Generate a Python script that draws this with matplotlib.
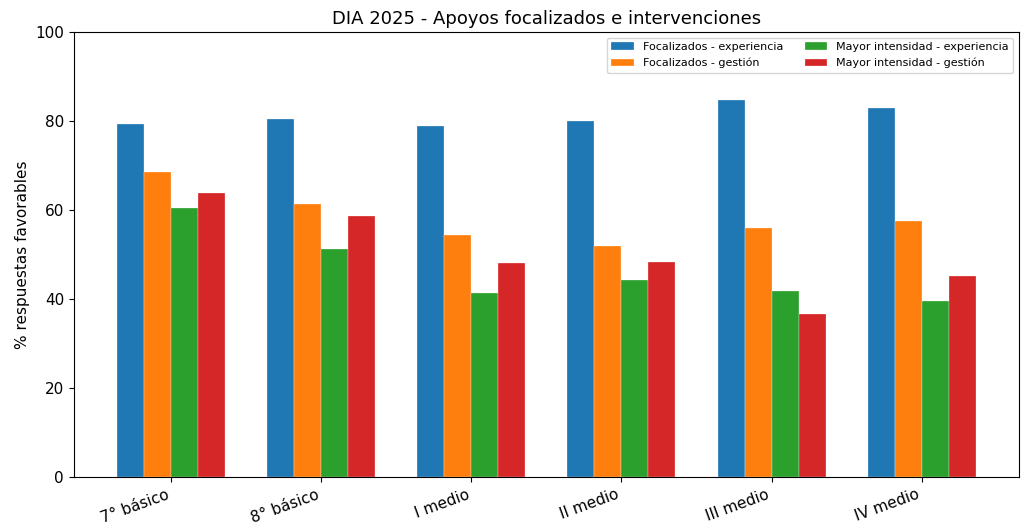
import matplotlib
matplotlib.use("Agg")
import matplotlib.pyplot as plt
import numpy as np

# Data
grades = ["7° básico", "8° básico", "I medio", "II medio", "III medio", "IV medio"]
foc_exp = [79.4, 80.5, 79.0, 80.1, 84.7, 82.9]
foc_ges = [68.6, 61.3, 54.4, 52.0, 56.0, 57.6]
may_exp = [60.4, 51.3, 41.5, 44.4, 41.9, 39.6]
may_ges = [63.8, 58.7, 48.1, 48.4, 36.7, 45.3]
series = [
    ("Focalizados - experiencia", foc_exp, "#1f77b4"),
    ("Focalizados - gestión", foc_ges, "#ff7f0e"),
    ("Mayor intensidad - experiencia", may_exp, "#2ca02c"),
    ("Mayor intensidad - gestión", may_ges, "#d62728"),
]

fig = plt.figure(figsize=(10.25, 5.29), dpi=100)
ax = fig.add_axes([0.072, 0.098, 0.922, 0.841])

x = np.arange(len(grades))
w = 0.18
for i, (label, vals, color) in enumerate(series):
    ax.bar(x + (i - 1.5) * w, vals, w, label=label, color=color,
           edgecolor="white", linewidth=0.2)

ax.set_ylim(0, 100)
ax.set_xticks(x)
ax.set_xticklabels(grades, rotation=20, ha="right", fontsize=11)
ax.tick_params(axis="y", labelsize=11)
ax.set_ylabel("% respuestas favorables", fontsize=11)
ax.set_title("DIA 2025 - Apoyos focalizados e intervenciones", fontsize=13)
ax.legend(ncol=2, fontsize=8, loc="upper right")

fig.savefig("out.png", dpi=100)
